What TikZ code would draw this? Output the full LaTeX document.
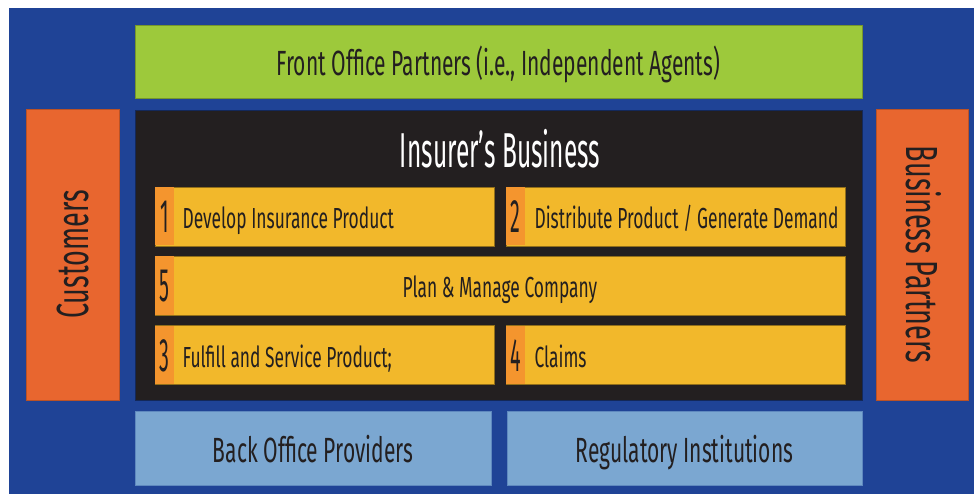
\documentclass[tikz,border=0pt]{standalone}
\usepackage{fontspec}
\setmainfont{Fira Sans}[FakeStretch=0.6]
\newfontfamily\numfont{Fira Sans}[FakeStretch=0.42]
\newfontfamily\titulofont{Fira Sans}[FakeStretch=0.5]
\definecolor{fundo}{HTML}{1F4396}
\definecolor{verde}{HTML}{9DC93B}
\definecolor{laranja}{HTML}{E8662F}
\definecolor{preto}{HTML}{231F20}
\definecolor{amarelo}{HTML}{F2B82B}
\definecolor{faixa}{HTML}{F4952E}
\definecolor{azulclaro}{HTML}{7BA7D1}

\begin{document}
\begin{tikzpicture}[x=1pt, y=-1pt,
    bloco/.style={rectangle, inner sep=0, line width=0.8pt},
    etapa/.style={bloco, fill=amarelo, draw=amarelo!60!black, minimum width=339, minimum height=59},
    numero/.style={rectangle, inner sep=0, fill=faixa, anchor=west, minimum width=19, minimum height=58,
        font=\numfont\fontsize{47}{47}\selectfont, text=preto, text height=32pt, text depth=0pt},
    rotulo/.style={inner sep=0, font=\fontsize{29}{30}\selectfont, text=preto, text height=25pt, text depth=0pt},
    grande/.style={inner sep=0, font=\fontsize{35}{37}\selectfont, text=preto, text height=29pt, text depth=0pt},
    lateral/.style={inner sep=0, font=\fontsize{45}{46}\selectfont, text=preto, text height=31pt, text depth=0pt}]
    \useasboundingbox (0,0) rectangle (974,494);

    % Fundo
    \fill[white] (0,0) rectangle (974,494);
    \node[bloco, fill=fundo, anchor=north west, minimum width=965, minimum height=486] (base) at (9,8) {};

    % Parceiros e clientes
    \node[bloco, fill=verde, draw=verde!75!black, minimum width=727, minimum height=73] (frente) at (498.5,61.5) {};
    \node[grande] (tfrente) at (frente.center) {Front Office Partners (i.e., Independent Agents)};
    \node[bloco, fill=laranja, draw=laranja!80!black, minimum width=93, minimum height=291] (clientes) at (72.5,254.5) {};
    \node[lateral, rotate=90] (tclientes) at (clientes.center) {Customers};
    \node[bloco, fill=laranja, draw=laranja!80!black, minimum width=92, minimum height=291] (parceiros) at (922,254.5) {};
    \node[lateral, rotate=-90] (tparceiros) at (parceiros.center) {Business Partners};

    % Negocio da seguradora
    \node[bloco, fill=preto, draw=fundo!60!black, minimum width=727, minimum height=290] (negocio) at (498.5,255) {};
    \node[inner sep=0, font=\titulofont\fontsize{49}{50}\selectfont, text=white, text height=34pt, text depth=0pt] (titulo) at (500,151) {Insurer’s Business};

    % Etapas
    \node[etapa] (e1) at (324.5,216.5) {};
    \node[numero] (n1) at ([xshift=0.4]e1.west) {1};
    \node[rotulo, anchor=west] (r1) at ([xshift=8]n1.east) {Develop Insurance Product};

    \node[etapa] (e2) at (675.5,216.5) {};
    \node[numero] (n2) at ([xshift=0.4]e2.west) {2};
    \node[rotulo, anchor=west] (r2) at ([xshift=9]n2.east) {Distribute Product\,/ Generate Demand};

    \node[etapa, minimum width=690] (e5) at (500,285.5) {};
    \node[numero] (n5) at ([xshift=0.4]e5.west) {5};
    \node[rotulo] (r5) at (e5.center) {Plan \& Manage Company};

    \node[etapa] (e3) at (324.5,355) {};
    \node[numero] (n3) at ([xshift=0.4]e3.west) {3};
    \node[rotulo, anchor=west] (r3) at ([xshift=8]n3.east) {Fulfill and Service Product;};

    \node[etapa] (e4) at (675.5,355) {};
    \node[numero] (n4) at ([xshift=0.4]e4.west) {4};
    \node[rotulo, anchor=west] (r4) at ([xshift=9]n4.east) {Claims};

    % Fornecedores e reguladores
    \node[bloco, fill=azulclaro, draw=azulclaro!70!fundo, minimum width=356, minimum height=74] (retaguarda) at (313,448) {};
    \node[grande] (tretaguarda) at (retaguarda.center) {Back Office Providers};
    \node[bloco, fill=azulclaro, draw=azulclaro!70!fundo, minimum width=355, minimum height=74] (reguladores) at (684.5,448) {};
    \node[grande] (treguladores) at (reguladores.center) {Regulatory Institutions};
\end{tikzpicture}
\end{document}
